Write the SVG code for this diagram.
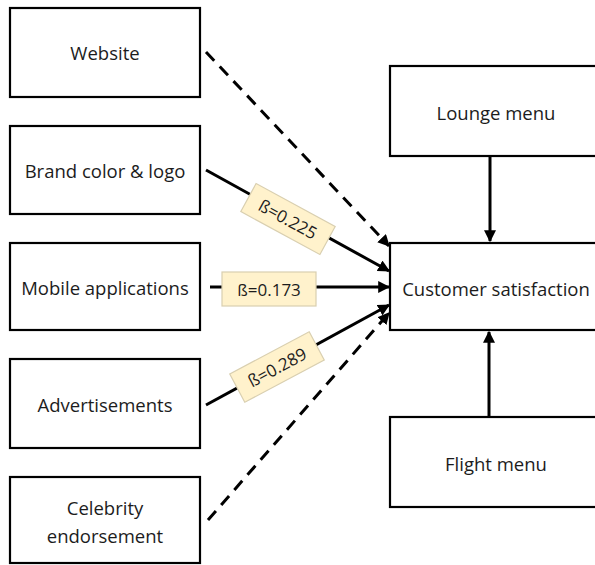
<svg xmlns="http://www.w3.org/2000/svg" width="595" height="565" viewBox="0 0 595 565">
<style>
.box{fill:#fff;stroke:#000;stroke-width:2.2}
.t{font-family:"Open Sans","Liberation Sans",sans-serif;font-size:18.5px;fill:#1c1c1c;text-anchor:middle;dominant-baseline:central}
.c{stroke:#000;stroke-width:3;fill:none}
.d{stroke-dasharray:12 8}
.lb{fill:#fff2cc;stroke:#d9cfb0;stroke-width:1.2}
.lt{font-family:"Open Sans","Liberation Sans",sans-serif;font-size:17px;fill:#1c1c1c;text-anchor:middle;dominant-baseline:central}
</style>
<defs>
<marker id="ah" viewBox="0 0 10 10" refX="9" refY="5" markerWidth="4" markerHeight="4" orient="auto" markerUnits="strokeWidth">
<path d="M0,0 L10,5 L0,10 z" fill="#000"/>
</marker>
</defs>
<g id="website"><rect class="box" x="10" y="8" width="190" height="89"/><text class="t" x="105" y="52">Website</text></g>
<g id="brand"><rect class="box" x="10" y="126" width="190" height="88"/><text class="t" x="105" y="170">Brand color &amp; logo</text></g>
<g id="mobile"><rect class="box" x="10" y="243" width="190" height="87"/><text class="t" x="105" y="287">Mobile applications</text></g>
<g id="ads"><rect class="box" x="10" y="359" width="190" height="89"/><text class="t" x="105" y="404">Advertisements</text></g>
<g id="celebrity"><rect class="box" x="10" y="477" width="190" height="86"/><text class="t" x="105" y="507">Celebrity</text><text class="t" x="105" y="535">endorsement</text></g>
<g id="lounge"><rect class="box" x="390" y="66" width="212" height="90"/><text class="t" x="496" y="112">Lounge menu</text></g>
<g id="cs"><rect class="box" x="390" y="243" width="212" height="87"/><text class="t" x="496" y="288">Customer satisfaction</text></g>
<g id="flight"><rect class="box" x="390" y="417" width="212" height="90"/><text class="t" x="496" y="463">Flight menu</text></g>
<g id="connectors">
<line class="c d" x1="206" y1="52" x2="389" y2="246" marker-end="url(#ah)"/>
<line class="c" x1="206" y1="170" x2="389" y2="271" marker-end="url(#ah)"/>
<line class="c" x1="210" y1="287" x2="389" y2="287" marker-end="url(#ah)"/>
<line class="c" x1="206" y1="405" x2="389" y2="305" marker-end="url(#ah)"/>
<line class="c d" x1="208" y1="520" x2="389" y2="313" marker-end="url(#ah)"/>
<line class="c" x1="490" y1="157" x2="490" y2="241" marker-end="url(#ah)"/>
<line class="c" x1="489" y1="416" x2="489" y2="332" marker-end="url(#ah)"/>
</g>
<g id="labels">
<g transform="translate(288,219) rotate(28.5)"><rect class="lb" x="-45" y="-16" width="90" height="32"/><text class="lt" x="0" y="0">ß=0.225</text></g>
<g transform="translate(269,289)"><rect class="lb" x="-47" y="-17" width="94" height="34"/><text class="lt" x="0" y="0">ß=0.173</text></g>
<g transform="translate(277,367) rotate(-28)"><rect class="lb" x="-45" y="-16" width="90" height="32"/><text class="lt" x="0" y="0">ß=0.289</text></g>
</g>
</svg>
